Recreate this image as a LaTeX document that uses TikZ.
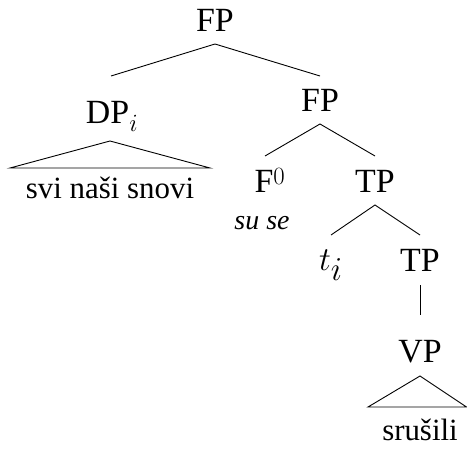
\documentclass[tikz,border=0pt]{standalone}
\usepackage{fontspec}
\setmainfont{Liberation Serif}
\begin{document}
\begin{tikzpicture}[x=1bp,y=-1bp,
  lab/.style={anchor=base,inner sep=0pt,font=\fontsize{34}{40}\selectfont},
  term/.style={anchor=base,inner sep=0pt,font=\fontsize{31}{36}\selectfont},
  edge/.style={line width=0.9bp}]
\useasboundingbox (0,0) rectangle (467,449);
\node[lab] (fp1) at (215,32) {FP};
\node[lab] (dp) at (112,124) {DP$_{i}$};
\node[lab] (fp2) at (320,112) {FP};
\node[lab] (f0) at (270,193) {F$^{0}$};
\node[term,font=\fontsize{28}{32}\selectfont\itshape] (suse) at (262,230) {su se};
\node[lab] (tp1) at (375,193) {TP};
\node[lab] (ti) at (331,270) {\scalebox{1.35}{$t_{i}$}};
\node[lab] (tp2) at (420,271) {TP};
\node[lab] (vp) at (420,362) {VP};
\node[term] (svi) at (110,199) {svi naši snovi};
\node[term] (srus) at (420,440) {srušili};
\coordinate (a1) at (215,44);
\coordinate (dpt) at (111,76);
\coordinate (fp2t) at (320,76);
\draw[edge] (dpt) -- (a1) -- (fp2t);
\coordinate (a2) at (320,124);
\coordinate (f0t) at (265,156);
\coordinate (tp1t) at (375,156);
\draw[edge] (f0t) -- (a2) -- (tp1t);
\coordinate (a3) at (375,205);
\coordinate (tit) at (331,235);
\coordinate (tp2t) at (420,235);
\draw[edge] (tit) -- (a3) -- (tp2t);
\coordinate (a4) at (420,285);
\coordinate (vpt) at (420,315);
\draw[edge] (a4) -- (vpt);
\coordinate (d1) at (110,141);
\coordinate (d2) at (10,168);
\coordinate (d3) at (210,168);
\draw[edge] (d1) -- (d2) -- (d3) -- cycle;
\coordinate (v1) at (420,376);
\coordinate (v2) at (368,407);
\coordinate (v3) at (466.5,407);
\draw[edge] (v1) -- (v2) -- (v3) -- cycle;
\end{tikzpicture}
\end{document}
